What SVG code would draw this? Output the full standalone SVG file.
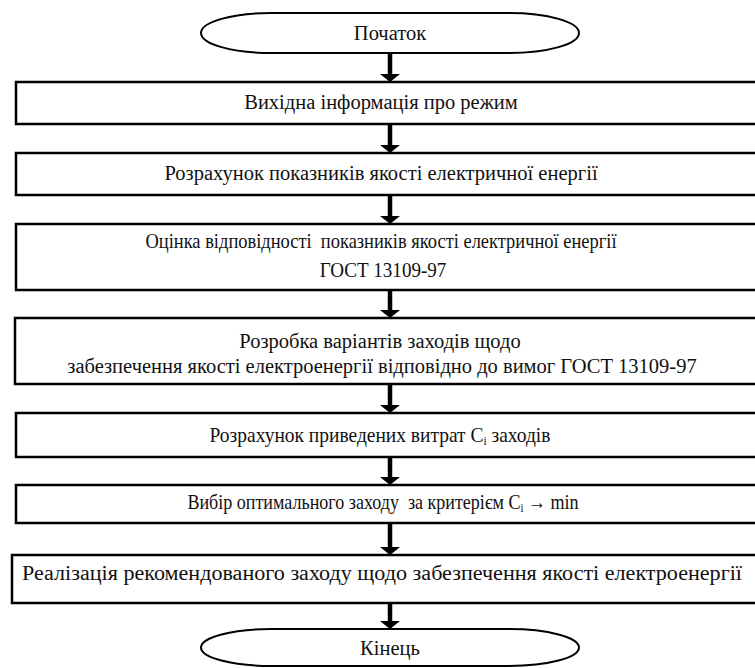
<svg xmlns="http://www.w3.org/2000/svg" width="755" height="668" viewBox="0 0 755 668">
<style>
.box{fill:#fff;stroke:#000;stroke-width:2.5}
.term{fill:#fff;stroke:#000;stroke-width:2}
.t{font-family:"Liberation Serif","Times New Roman",serif;font-size:20.5px;fill:#111;text-anchor:middle}
.sh{stroke:#000;stroke-width:4.5}
.hd{fill:#000}
</style>
<rect width="755" height="668" fill="#fff"/>
<g id="start">
<rect class="term" x="201" y="13" width="378" height="40" rx="70" ry="20"/>
<text class="t" x="390" y="40">Початок</text>
</g>
<g id="n1">
<rect class="box" x="16" y="82" width="760" height="42"/>
<text class="t" x="381" y="109">Вихідна інформація про режим</text>
</g>
<g id="n2">
<rect class="box" x="16" y="153" width="760" height="42"/>
<text class="t" x="381" y="180">Розрахунок показників якості електричної енергії</text>
</g>
<g id="n3">
<rect class="box" x="16" y="224" width="760" height="66"/>
<text class="t" transform="translate(381 248) scale(0.9 1)" xml:space="preserve">Оцінка відповідності  показників якості електричної енергії</text>
<text class="t" transform="translate(383 277) scale(0.93 1)">ГОСТ 13109-97</text>
</g>
<g id="n4">
<rect class="box" x="15" y="318" width="760" height="66"/>
<text class="t" x="380" y="348">Розробка варіантів заходів щодо</text>
<text class="t" x="382" y="373">забезпечення якості електроенергії відповідно до вимог ГОСТ 13109-97</text>
</g>
<g id="n5">
<rect class="box" x="16" y="413" width="760" height="44"/>
<text class="t" transform="translate(380 442) scale(0.95 1)">Розрахунок приведених витрат C<tspan font-size="12" dy="3">i</tspan><tspan dy="-3"> заходів</tspan></text>
</g>
<g id="n6">
<rect class="box" x="16" y="485" width="760" height="38"/>
<text class="t" transform="translate(383 509) scale(0.88 1)" xml:space="preserve">Вибір оптимального заходу  за критерієм C<tspan font-size="12" dy="3">i</tspan><tspan dy="-3"> → min</tspan></text>
</g>
<g id="n7">
<rect class="box" x="12" y="555" width="760" height="48"/>
<text class="t" x="382" y="580" textLength="720" lengthAdjust="spacingAndGlyphs">Реалізація рекомендованого заходу щодо забезпечення якості електроенергії</text>
</g>
<g id="end">
<rect class="term" x="201" y="629" width="378" height="37" rx="70" ry="18.5"/>
<text class="t" x="390" y="655">Кінець</text>
</g>
<g id="connectors">
<line class="sh" x1="390" y1="53" x2="390" y2="75"/><polygon class="hd" points="380,74 400,74 390,82"/>
<line class="sh" x1="390" y1="124" x2="390" y2="146"/><polygon class="hd" points="380,145 400,145 390,153"/>
<line class="sh" x1="390" y1="195" x2="390" y2="217"/><polygon class="hd" points="380,216 400,216 390,224"/>
<line class="sh" x1="390" y1="290" x2="390" y2="311"/><polygon class="hd" points="380,310 400,310 390,318"/>
<line class="sh" x1="390" y1="384" x2="390" y2="406"/><polygon class="hd" points="380,405 400,405 390,413"/>
<line class="sh" x1="390" y1="457" x2="390" y2="478"/><polygon class="hd" points="380,477 400,477 390,485"/>
<line class="sh" x1="390" y1="523" x2="390" y2="548"/><polygon class="hd" points="380,547 400,547 390,555"/>
<line class="sh" x1="390" y1="603" x2="390" y2="622"/><polygon class="hd" points="380,621 400,621 390,629"/>
</g>
</svg>
